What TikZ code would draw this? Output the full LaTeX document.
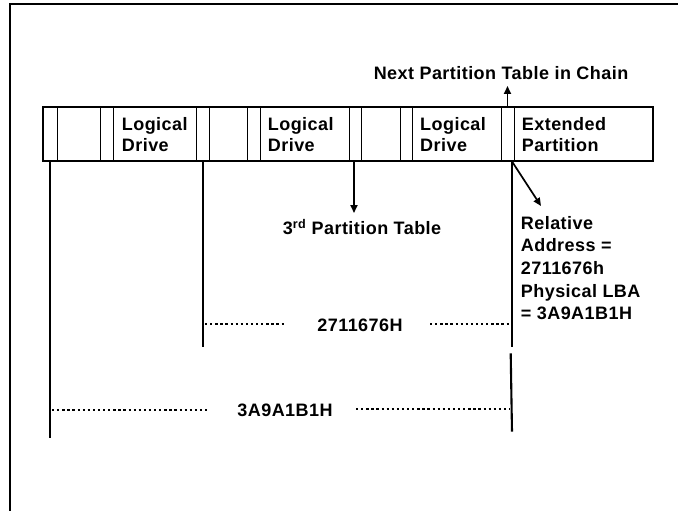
\documentclass[tikz,border=0pt]{standalone}
\usepackage{fontspec}
\setmainfont{Liberation Sans}[LetterSpace=2.5]
\usetikzlibrary{arrows.meta}
\begin{document}
\begin{tikzpicture}[x=1pt,y=-1pt,
  lbl/.style={font=\fontsize{18}{21.7}\selectfont\bfseries, inner sep=0pt, align=left},
  celline/.style={line width=0.9pt},
  boxline/.style={line width=1.7pt},
  longline/.style={line width=2.1pt},
  arr/.style={line width=1.7pt, -{Triangle[length=8pt,width=7pt]}},
  dotline/.style={line width=2.3pt, dash pattern=on 2.3pt off 2.8pt}]
\useasboundingbox (0,0) rectangle (678,511);
% outer frame
\draw[line width=1.8pt] (10,511) -- (10,4) -- (678,4);
% partition strip
\foreach \x in {57.3,100.7,113.3,196,209.3,247.3,260,349.3,361.7,400,412.7,501.7,514}
  \draw[celline] (\x,106.7) -- (\x,161);
\draw[boxline] (43.3,106.7) rectangle (653.3,161);
% texts in cells
\node[lbl, anchor=west] (ld1) at (121.7,134.5) {Logical\\Drive};
\node[lbl, anchor=west] (ld2) at (267.7,134.5) {Logical\\Drive};
\node[lbl, anchor=west] (ld3) at (420,134.5) {Logical\\Drive};
\node[lbl, anchor=west] (ext) at (521.7,134.5) {Extended\\Partition};
% labels
\node[lbl] (next) at (501,73.3) {Next Partition Table in Chain};
\node[lbl] (third) at (362,227) {3\textsuperscript{rd} Partition Table};
\node[lbl, anchor=north west, font=\fontsize{18}{22.6}\selectfont\bfseries] (rel) at (520.7,216)
  {Relative\\Address =\\2711676h\\Physical LBA\\= 3A9A1B1H};
\node[lbl] (v1) at (360,325.7) {2711676H};
\node[lbl] (v2) at (285,410) {3A9A1B1H};
% coordinates
\coordinate (a1) at (50,161);   \coordinate (a2) at (50,437.7);
\coordinate (b1) at (203,161);  \coordinate (b2) at (203,347.3);
\coordinate (c1) at (511.7,161); \coordinate (c2) at (511.7,346.7);
\coordinate (d1) at (510.7,353.3); \coordinate (d2) at (512,431.7);
\coordinate (ntop) at (507.5,106.7); \coordinate (ntip) at (507.5,86);
\coordinate (tbot) at (354,161); \coordinate (ttip) at (354,213);
\coordinate (rtip) at (541,206);
% long lines
\draw[longline] (a1) -- (a2);
\draw[longline] (b1) -- (b2);
\draw[longline] (c1) -- (c2);
\draw[longline] (d1) -- (d2);
% arrows
\draw[arr] (ntop) -- (ntip);
\draw[arr] (tbot) -- (ttip);
\draw[arr] (c1) -- (rtip);
% dotted extents
\coordinate (e1) at (205,324.3); \coordinate (e2) at (286,324.3);
\coordinate (e3) at (430,324.3); \coordinate (e4) at (510.5,324.3);
\coordinate (f1) at (52,410); \coordinate (f2) at (207,410);
\coordinate (f3) at (356,409); \coordinate (f4) at (510,409);
\draw[dotline] (e1) -- (e2);
\draw[dotline] (e3) -- (e4);
\draw[dotline] (f1) -- (f2);
\draw[dotline] (f3) -- (f4);
\end{tikzpicture}
\end{document}
